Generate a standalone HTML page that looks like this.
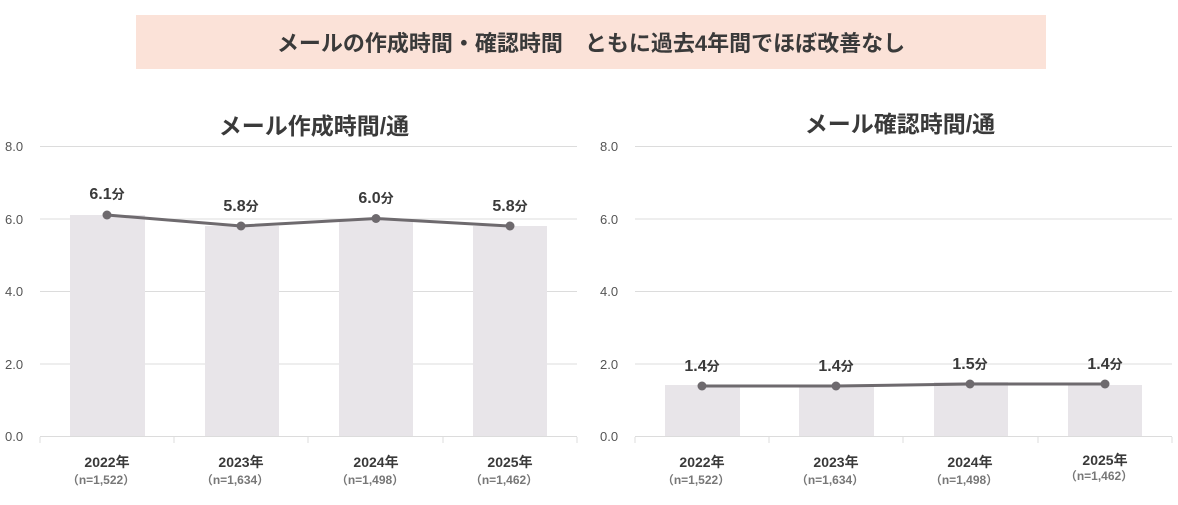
<!DOCTYPE html>
<html><head><meta charset="utf-8"><style>
body{margin:0;background:#fff;}
svg text{font-family:"Liberation Sans","Noto Sans CJK JP",sans-serif;}
</style></head><body>
<svg width="1178" height="500" viewBox="0 0 1178 500" xmlns="http://www.w3.org/2000/svg">
<rect x="136" y="15" width="910" height="54" fill="#fbe2d8"/>
<text x="591" y="51" text-anchor="middle" font-size="22" font-weight="bold" fill="#3a3a3a">メールの作成時間・確認時間　ともに過去4年間でほぼ改善なし</text>

<text x="314" y="134" text-anchor="middle" font-size="23" font-weight="bold" fill="#3a3a3a">メール作成時間/通</text>
<text x="900" y="132" text-anchor="middle" font-size="23" font-weight="bold" fill="#3a3a3a">メール確認時間/通</text>

<g font-size="13" fill="#555">
<g stroke="#dcdcdc" stroke-width="1">
<line x1="40" y1="146.5" x2="577" y2="146.5"/><line x1="40" y1="219" x2="577" y2="219"/><line x1="40" y1="291.5" x2="577" y2="291.5"/><line x1="40" y1="364" x2="577" y2="364"/><line x1="40" y1="436.5" x2="577" y2="436.5"/>
<line x1="40" y1="437" x2="40" y2="443"/><line x1="174" y1="437" x2="174" y2="443"/><line x1="308" y1="437" x2="308" y2="443"/><line x1="443" y1="437" x2="443" y2="443"/><line x1="577" y1="437" x2="577" y2="443"/>
<line x1="635" y1="146.5" x2="1172" y2="146.5"/><line x1="635" y1="219" x2="1172" y2="219"/><line x1="635" y1="291.5" x2="1172" y2="291.5"/><line x1="635" y1="364" x2="1172" y2="364"/><line x1="635" y1="436.5" x2="1172" y2="436.5"/>
<line x1="635" y1="437" x2="635" y2="443"/><line x1="769" y1="437" x2="769" y2="443"/><line x1="903" y1="437" x2="903" y2="443"/><line x1="1038" y1="437" x2="1038" y2="443"/><line x1="1172" y1="437" x2="1172" y2="443"/>
</g>
<text x="5" y="151">8.0</text><text x="5" y="224">6.0</text><text x="5" y="296">4.0</text><text x="5" y="369">2.0</text><text x="5" y="441">0.0</text>
<text x="600" y="151">8.0</text><text x="600" y="224">6.0</text><text x="600" y="296">4.0</text><text x="600" y="369">2.0</text><text x="600" y="441">0.0</text>
</g>

<g fill="#e8e5e9">
<rect x="70" y="215" width="75" height="221"/><rect x="205" y="226" width="74" height="210"/><rect x="339" y="219" width="74" height="217"/><rect x="473" y="226" width="74" height="210"/>
<rect x="665" y="385" width="75" height="51"/><rect x="799" y="385" width="75" height="51"/><rect x="934" y="382" width="74" height="54"/><rect x="1068" y="385" width="74" height="51"/>
</g>

<polyline points="107,215 241,226 376,218.5 510,226" fill="none" stroke="#6e6a6e" stroke-width="3"/>
<polyline points="702,386 836,386 970,384 1105,384" fill="none" stroke="#6e6a6e" stroke-width="3"/>
<g fill="#6e6a6e">
<circle cx="107" cy="215" r="4.5"/><circle cx="241" cy="226" r="4.5"/><circle cx="376" cy="218.5" r="4.5"/><circle cx="510" cy="226" r="4.5"/>
<circle cx="702" cy="386" r="4.5"/><circle cx="836" cy="386" r="4.5"/><circle cx="970" cy="384" r="4.5"/><circle cx="1105" cy="384" r="4.5"/>
</g>

<g font-size="16" font-weight="bold" fill="#3a3a3a" text-anchor="middle">
<text x="107" y="199">6.1<tspan font-size="13">分</tspan></text>
<text x="241" y="211">5.8<tspan font-size="13">分</tspan></text>
<text x="376" y="203">6.0<tspan font-size="13">分</tspan></text>
<text x="510" y="211">5.8<tspan font-size="13">分</tspan></text>
<text x="702" y="371">1.4<tspan font-size="13">分</tspan></text>
<text x="836" y="371">1.4<tspan font-size="13">分</tspan></text>
<text x="970" y="369">1.5<tspan font-size="13">分</tspan></text>
<text x="1105" y="369">1.4<tspan font-size="13">分</tspan></text>
</g>

<g text-anchor="middle" fill="#3a3a3a">
<g font-size="14" font-weight="bold">
<text x="107" y="467">2022年</text><text x="241" y="467">2023年</text><text x="376" y="467">2024年</text><text x="510" y="467">2025年</text>
<text x="702" y="467">2022年</text><text x="836" y="467">2023年</text><text x="970" y="467">2024年</text><text x="1105" y="465">2025年</text>
</g>
<g font-size="12" font-weight="bold" fill="#777">
<text x="101" y="484">（n=1,522）</text><text x="235" y="484">（n=1,634）</text><text x="370" y="484">（n=1,498）</text><text x="504" y="484">（n=1,462）</text>
<text x="696" y="484">（n=1,522）</text><text x="830" y="484">（n=1,634）</text><text x="964" y="484">（n=1,498）</text><text x="1099" y="480">（n=1,462）</text>
</g>
</g>
</svg>
</body></html>
